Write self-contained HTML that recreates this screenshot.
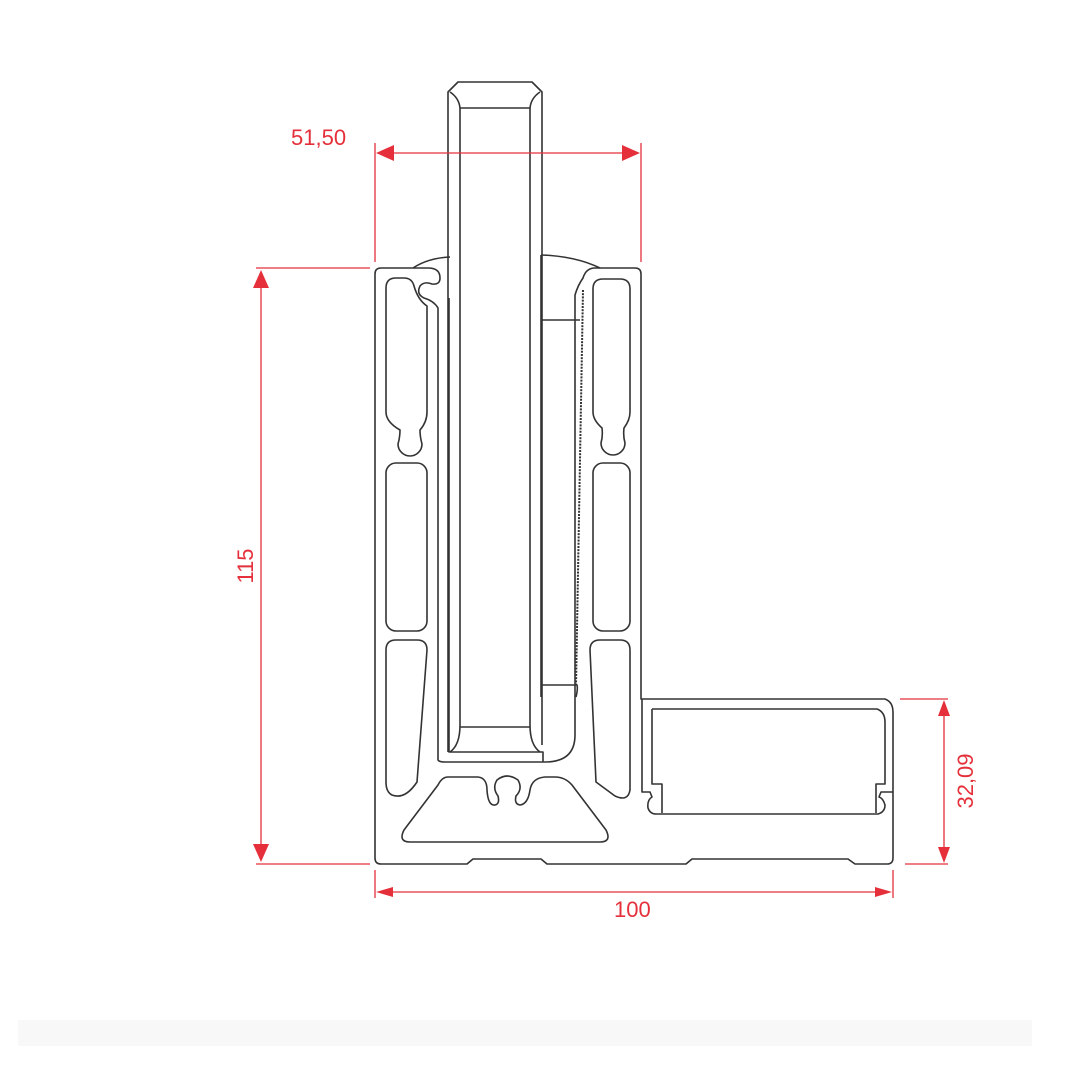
<!DOCTYPE html>
<html><head><meta charset="utf-8"><style>
html,body{margin:0;padding:0;background:#fff;width:1080px;height:1080px;overflow:hidden}
svg{display:block}
text{font-family:"Liberation Sans",sans-serif;fill:#e5303b;font-size:22px}
</style></head><body>
<svg width="1080" height="1080" viewBox="0 0 1080 1080" xmlns="http://www.w3.org/2000/svg">
<rect x="18" y="1020" width="1014" height="26" fill="#f8f8f8"/>
<g fill="none" stroke="#333" stroke-width="1.6" stroke-linejoin="round">
<!-- outer profile -->
<path d="M381,268 H428 Q440,268 440,278 Q440,285 432,284 Q424,281 420,286 Q416,294 424,298 Q434,301 438,308 V760 Q439,762 445,762 H545 Q575,762 575,735 V295 Q578,285 583,278 Q586,268 595,268 H635 Q641,268 641,274 V699 H885 Q893,702 893,712 V858 Q893,864 887,864 H855 L848,859 H692 L686,864 H547 L541,859 H473 L467,864 H381 Q375,864 375,858 V274 Q375,268 381,268 Z"/>
<path d="M413,268 Q428,258 450,257"/>
<path d="M449,298 V752 H543 V762"/>
<!-- glass -->
<path d="M448,752 V92 L458,82 H532 L542,92 V745"/>
<path d="M460,108 V725 Q460,745 450,752 M530,108 V725 Q530,745 540,752"/>
<path d="M450,92 Q459,98 460,108 H530 Q531,98 540,92"/>
<path d="M460,727 H530"/>
<!-- right wedge and blocks -->
<path d="M541,255 Q575,256 600,268"/>
<path d="M541,255 V697 M541,320 H580 M541,685 H577 Q578,689 576,697"/>
<path d="M583,290 L576,686" stroke-dasharray="2,1.2" stroke-width="2"/>
<!-- left slots -->
<path d="M396,278 H404 Q412,278 414,286 Q418,300 427,306 V412 Q427,422 420,430 Q420,437 422,444 A12,12 0 1 1 398,444 Q400,437 400,430 Q386,422 386,412 V288 Q386,278 396,278 Z"/>
<path d="M603,279 H620 Q630,279 630,289 V412 Q630,420 624,428 Q623,436 625,443 A12,12 0 1 1 601,443 Q603,436 602,428 Q593,420 593,412 V289 Q593,279 603,279 Z"/>
<rect x="386" y="463" width="41" height="168" rx="10"/>
<rect x="593" y="463" width="37" height="168" rx="10"/>
<path d="M396,640 H417 Q427,640 427,650 L417,782 Q405,800 392,795 Q386,792 386,782 V650 Q386,640 396,640 Z"/>
<path d="M600,640 H620 Q630,640 630,650 V790 Q628,802 615,796 L596,782 L590,650 Q590,640 600,640 Z"/>
<!-- trapezoid cavity -->
<path d="M448,777 H478 Q487,778 487,790 Q488,806 495,805 Q500,804 498,796 Q492,788 497,780 Q507,772 518,780 Q523,789 516,796 Q514,804 520,805 Q528,804 530,790 Q532,778 545,777 H555 Q565,777 572,785 L606,830 Q612,842 600,842 H410 Q398,842 404,830 L438,785 Q442,777 448,777 Z"/>
<!-- right channel -->
<path d="M642,699 V792 H650 L652,797 Q647,800 648,808 Q650,814 656,814 H878 Q885,812 885,805 Q883,798 879,797 L881,792 H893"/>
<path d="M652,709 H877 Q885,712 885,722 V784 H876 V813 M652,709 V784 H662 V813"/>
</g>
<!-- dimensions -->
<g stroke="#e5303b" stroke-width="1.3" fill="none">
<path d="M375,143 V262 M641,143 V262 M392,153 H624"/>
<path d="M256,268 H370 M256,864 H370 M261,284 V848"/>
<path d="M375,870 V898 M893,870 V898 M390,892 H878"/>
<path d="M900,699 H948 M905,864 H948 M944,714 V849"/>
</g>
<g fill="#e5303b">
<path d="M376,153 L394,145 V161 Z M640,153 L622,145 V161 Z"/>
<path d="M261,270 L253,288 H269 Z M261,862 L253,844 H269 Z"/>
<path d="M376,892 L393,887 V897 Z M892,892 L875,887 V897 Z"/>
<path d="M944,700 L938,716 H950 Z M944,863 L938,847 H950 Z"/>
</g>
<text x="291" y="145">51,50</text>
<text x="614" y="917">100</text>
<text transform="translate(253,566) rotate(-90)" text-anchor="middle">115</text>
<text transform="translate(973,781) rotate(-90)" text-anchor="middle">32,09</text>
</svg>
</body></html>
